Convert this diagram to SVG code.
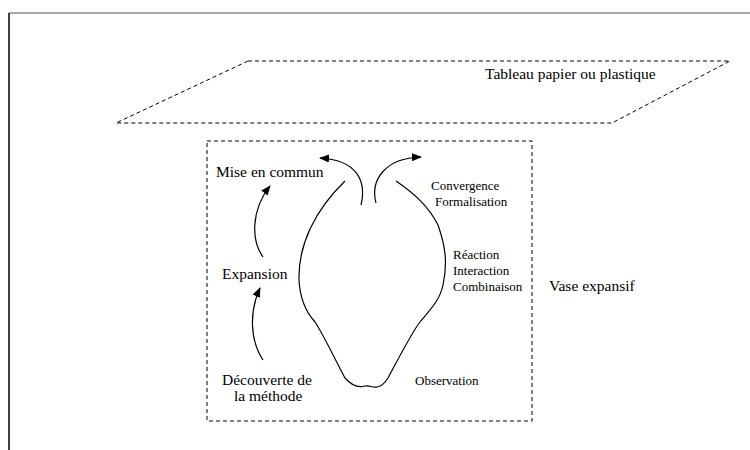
<svg xmlns="http://www.w3.org/2000/svg" width="750" height="450" viewBox="0 0 750 450">
<defs>
<marker id="ah" viewBox="0 0 10 8" refX="9" refY="4" markerWidth="10" markerHeight="8" markerUnits="userSpaceOnUse" orient="auto">
<path d="M0,0 L10,4 L0,8 Z" fill="#000"/>
</marker>
<style>
text{font-family:'Liberation Serif',serif;fill:#000}
.lbl{font-size:15.5px}
.sm{font-size:13px}
.dash{fill:none;stroke:#000;stroke-width:1;stroke-dasharray:4,3}
.ln{fill:none;stroke:#000;stroke-width:1.2}
</style>
</defs>
<rect width="750" height="450" fill="#fff"/>
<g id="frame">
<line x1="9" y1="13" x2="750" y2="13" stroke="#555" stroke-width="1"/>
<line x1="9" y1="13" x2="9" y2="450" stroke="#000" stroke-width="1.5"/>
</g>
<g id="tableau">
<polygon class="dash" points="248,61 730,61 612,123 116,123"/>
<text class="lbl" x="485" y="79">Tableau papier ou plastique</text>
</g>
<g id="vase-box">
<rect class="dash" x="207" y="141" width="325" height="280" stroke-dasharray="3,3"/>
<text class="lbl" x="549" y="291">Vase expansif</text>
</g>
<g id="vase">
<path class="ln" d="M345,181 C315,210 298,245 299,280 C300,300 306,312 315,322 C322,332 338,365 345,378 C352,386 358,388 365,386 C370,385 372,388 377,387 C382,386 385,383 388,378 C395,365 412,332 420,322 C430,310 440,300 443,285 C448,262 445,245 438,225 C428,205 412,192 396,181"/>
</g>
<g id="mise-en-commun"><text class="lbl" x="216" y="177">Mise en commun</text></g>
<g id="expansion"><text class="lbl" x="222" y="279">Expansion</text></g>
<g id="decouverte"><text class="lbl" x="222" y="385">Découverte de</text><text class="lbl" x="234" y="401">la méthode</text></g>
<g id="convergence"><text class="sm" x="431" y="190">Convergence</text><text class="sm" x="435" y="206">Formalisation</text></g>
<g id="reaction"><text class="sm" x="453" y="259">Réaction</text><text class="sm" x="453" y="275">Interaction</text><text class="sm" x="453" y="291">Combinaison</text></g>
<g id="observation"><text class="sm" x="415" y="385">Observation</text></g>
<g id="connectors">
<path class="ln" d="M263,257 C251,240 251,210 270,186" marker-end="url(#ah)"/>
<path class="ln" d="M263,360 C250,340 249,312 260,288" marker-end="url(#ah)"/>
<path class="ln" d="M361,205 C367,180 356,160 320,158" marker-end="url(#ah)"/>
<path class="ln" d="M376,203 C370,180 385,158 421,157" marker-end="url(#ah)"/>
</g>
</svg>
